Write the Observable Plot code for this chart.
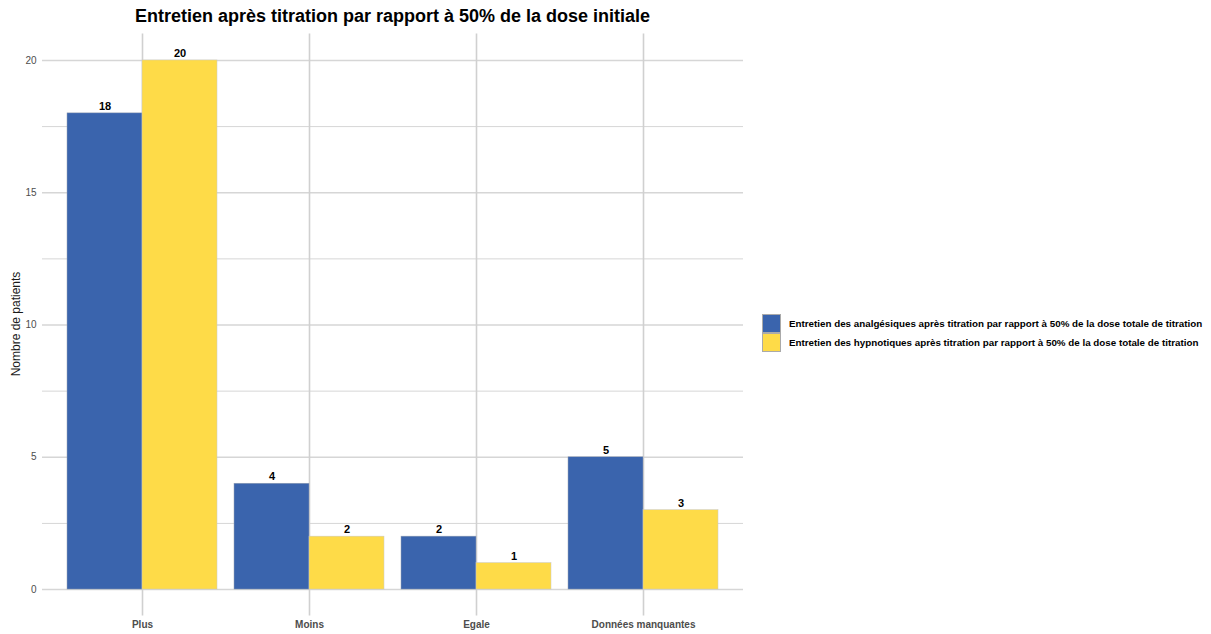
<!DOCTYPE html>
<html>
<head>
<meta charset="utf-8">
<script src="https://cdn.jsdelivr.net/npm/d3@7"></script>
<script src="https://cdn.jsdelivr.net/npm/@observablehq/plot@0.6"></script>
<style>
  html, body { margin: 0; padding: 0; background: #fff; }
  body { width: 1211px; height: 634px; position: relative; overflow: hidden; font-family: "Liberation Sans", Arial, sans-serif; }
  #title { position: absolute; left: 0; width: 785px; top: 6px; text-align: center; font-weight: bold; font-size: 18px; color: #000; white-space: nowrap; }
  #ylab { position: absolute; left: 16px; top: 324px; transform: translate(-50%, -50%) rotate(-90deg); font-size: 12px; color: #1a1a1a; white-space: nowrap; }
  #chart { position: absolute; left: 0; top: 0; }
  #legend { position: absolute; left: 762px; top: 314px; font-size: 9.8px; font-weight: bold; color: #000; }
  .item { display: flex; align-items: center; height: 19px; }
  .key { width: 17px; height: 17.5px; border: 0.5px solid #aaa; margin-right: 8px; box-sizing: content-box; }
</style>
</head>
<body>
<div id="title">Entretien après titration par rapport à 50% de la dose initiale</div>
<div id="ylab">Nombre de patients</div>
<div id="chart"></div>
<div id="legend"></div>
<script>
const categories = ["Plus", "Moins", "Egale", "Données manquantes"];
const seriesNames = [
  "Entretien des analgésiques après titration par rapport à 50% de la dose totale de titration",
  "Entretien des hypnotiques après titration par rapport à 50% de la dose totale de titration"
];
const analgesiques = [18, 4, 2, 5];
const hypnotiques = [20, 2, 1, 3];
const colors = ["#3a64ad", "#fedb48"];
const yTicks = [0, 5, 10, 15, 20];
const yMinor = [2.5, 7.5, 12.5, 17.5];

const dataA = categories.map((c, i) => ({category: c, value: analgesiques[i], series: seriesNames[0]}));
const dataH = categories.map((c, i) => ({category: c, value: hypnotiques[i], series: seriesNames[1]}));

const half = 75;
const chart = Plot.plot({
  width: 760,
  height: 634,
  marginLeft: 42,
  marginRight: 17,
  marginTop: 33.5,
  marginBottom: 18.5,
  style: {fontFamily: "'Liberation Sans', Arial, sans-serif", background: "transparent"},
  x: {domain: categories, paddingInner: 17/167, paddingOuter: 0.1497, label: null},
  y: {domain: [-1, 21], label: null},
  marks: [
    Plot.ruleY(yMinor, {stroke: "#d6d6d6", strokeWidth: 1}),
    Plot.ruleY(yTicks, {stroke: "#d6d6d6", strokeWidth: 1.6}),
    Plot.gridX({stroke: "#d0d0d0", strokeOpacity: 1, strokeWidth: 1.6}),
    Plot.axisY({ticks: yTicks, tickSize: 0, tickPadding: 6, label: null, fontSize: 10, fill: "#4d4d4d"}),
    Plot.axisX({tickSize: 0, tickPadding: 5, label: null, fontSize: 10, fontWeight: "bold", fill: "#4d4d4d"}),
    Plot.barY(dataA, {x: "category", y: "value", fill: colors[0], insetRight: half, stroke: "#9aa3b5", strokeWidth: 0.5}),
    Plot.barY(dataH, {x: "category", y: "value", fill: colors[1], insetLeft: half, stroke: "#c8c8c8", strokeWidth: 0.5}),
    Plot.text(dataA, {x: "category", y: "value", text: d => String(d.value), dx: -half/2, dy: -3.5, lineAnchor: "bottom", fontSize: 11, fontWeight: "bold", fill: "#000"}),
    Plot.text(dataH, {x: "category", y: "value", text: d => String(d.value), dx: half/2, dy: -3.5, lineAnchor: "bottom", fontSize: 11, fontWeight: "bold", fill: "#000"})
  ]
});
document.getElementById("chart").appendChild(chart);

const legend = document.getElementById("legend");
seriesNames.forEach((s, i) => {
  const item = document.createElement("div");
  item.className = "item";
  const key = document.createElement("div");
  key.className = "key";
  key.style.background = colors[i];
  const label = document.createElement("span");
  label.textContent = s;
  item.appendChild(key);
  item.appendChild(label);
  legend.appendChild(item);
});
</script>
</body>
</html>
